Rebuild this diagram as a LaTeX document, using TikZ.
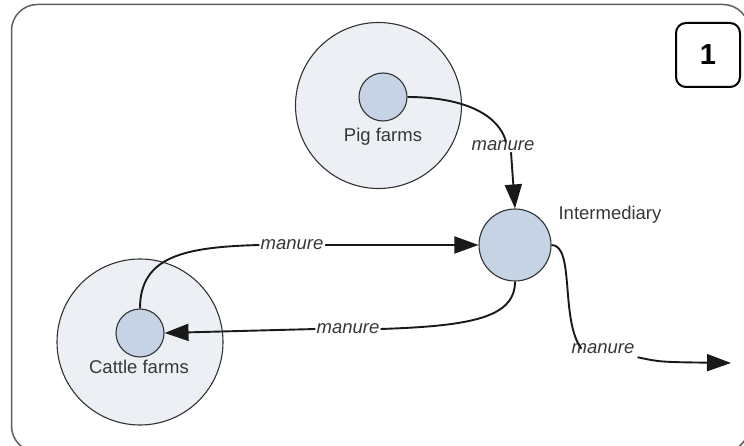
\documentclass[tikz,border=0pt]{standalone}
\usepackage{fontspec}
\setmainfont{Liberation Sans}
\usetikzlibrary{arrows.meta}
\definecolor{areafill}{RGB}{236,240,245}
\definecolor{nodefill}{RGB}{197,211,228}
\definecolor{outline}{RGB}{50,50,50}
\definecolor{txt}{RGB}{55,55,55}
\definecolor{framegray}{RGB}{95,95,95}
\tikzset{
  area/.style={circle, draw=outline, line width=1.1pt, fill=areafill, minimum size=#1, inner sep=0pt},
  actor/.style={circle, draw=outline, line width=1.1pt, fill=nodefill, minimum size=#1, inner sep=0pt},
  caption/.style={text=txt, font=\fontsize{18.5}{21}\selectfont, inner sep=0pt},
  flowlabel/.style={text=txt, font=\fontsize{18.5}{21}\selectfont\itshape, inner sep=1pt, fill=white},
  conn/.style={line width=1.9pt, draw=black!90},
  tip/.style={-{Triangle[length=24pt,width=17pt]}},
}
\begin{document}
\begin{tikzpicture}[x=1pt,y=-1pt]
  \useasboundingbox (0,0) rectangle (744,446);
  \clip (0,0) rectangle (744,446);
  % outer frame, partly running off the page
  \draw[framegray, line width=1.5pt, rounded corners=26pt] (11.5,4.5) rectangle (749,452);

  % number tag
  \node[draw=black, line width=2pt, rounded corners=10pt, minimum width=64pt, minimum height=64pt,
        font=\fontsize{29}{31}\selectfont\bfseries] (tag) at (708,55) {1};

  % farm areas
  \node[area=166pt] (pigA) at (378.5,105.5) {};
  \node[area=166pt] (cattleA) at (140,342) {};
  \node[actor=48pt] (pigS) at (383,97) {};
  \node[actor=48pt] (cattleS) at (140,333) {};
  \node[actor=72pt] (inter) at (515,245) {};

  \node[caption] (pigT) at (383,137) {Pig farms};
  \node[caption] (cattleT) at (139,367) {Cattle farms};
  \node[caption] (interT) at (610,215) {Intermediary};

  % flow labels
  \node[flowlabel] (m1) at (503,146) {manure};
  \node[flowlabel] (m2) at (292,245) {manure};
  \node[flowlabel] (m3) at (348,329) {manure};
  \node[flowlabel, fill=none] (m4) at (603,349) {manure};
  \coordinate (outEnd) at (731,363);

  % pig farms -> intermediary
  \draw[conn] (pigS.east) .. controls (455,97) and (497,110) .. ([xshift=3pt,yshift=-2pt]m1.north);
  \draw[conn, tip] ([xshift=8pt]m1.south) -- (inter.north);

  % cattle farms -> intermediary
  \draw[conn] (cattleS.north) .. controls (140,256) and (185,247) .. (m2.west);
  \draw[conn, tip] (m2.east) -- (inter.west);

  % intermediary -> cattle farms
  \draw[conn] (inter.south) .. controls (515,318) and (470,326) .. (m3.east);
  \draw[conn, tip] (m3.west) -- (cattleS.east);

  % intermediary -> out
  \draw[conn] (inter.east) .. controls (575,245) and (560,320) .. ([xshift=11pt,yshift=-6pt]m4.north west);
  \draw[conn, tip] ([xshift=2pt,yshift=-2pt]m4.south east) .. controls (660,362) .. (outEnd);
\end{tikzpicture}
\end{document}
